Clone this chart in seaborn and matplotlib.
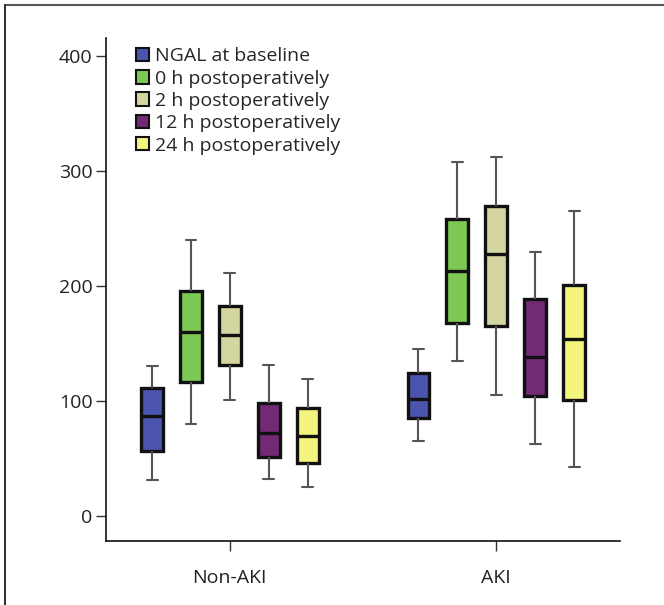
import numpy as np
import pandas as pd
import matplotlib
matplotlib.use("Agg")
import matplotlib.pyplot as plt
from matplotlib.lines import Line2D
from matplotlib.patches import Patch
import seaborn as sns

groups = ["Non-AKI", "AKI"]
timepoints = ["NGAL at baseline", "0 h postoperatively", "2 h postoperatively",
              "12 h postoperatively", "24 h postoperatively"]
colors = ["#4b55b0", "#7ec854", "#d4d6a2", "#732a74", "#f4f57c"]

# five-number summaries: min, q1, median, q3, max
non_aki = {
    "NGAL at baseline": [31, 56, 87, 111, 130],
    "0 h postoperatively": [80, 116, 160, 196, 240],
    "2 h postoperatively": [101, 131, 157, 183, 211],
    "12 h postoperatively": [32, 51, 72, 98, 131],
    "24 h postoperatively": [25, 46, 69, 94, 119],
}
aki = {
    "NGAL at baseline": [65, 85, 102, 124, 145],
    "0 h postoperatively": [135, 168, 213, 258, 308],
    "2 h postoperatively": [105, 165, 228, 270, 312],
    "12 h postoperatively": [62, 104, 138, 189, 230],
    "24 h postoperatively": [42, 101, 154, 201, 265],
}

rows = []
for grp, summ in zip(groups, [non_aki, aki]):
    for tp in timepoints:
        for v in summ[tp]:
            rows.append({"group": grp, "time": tp, "ngal": v})
df = pd.DataFrame(rows)

sns.set_style("white")
plt.rcParams["font.family"] = ["Open Sans", "DejaVu Sans"]

fig = plt.figure(figsize=(6.64, 6.05), dpi=100)
ax = fig.add_axes([0.160, 0.106, 0.774, 0.831])

sns.boxplot(
    data=df, x="group", y="ngal", hue="time", order=groups, hue_order=timepoints,
    palette=colors, whis=(0, 100), width=0.73, gap=0.44, ax=ax, legend=False,
    linewidth=2.4, linecolor="#111111", saturation=1,
    whiskerprops=dict(color="#555555", linewidth=1.5),
    capprops=dict(color="#555555", linewidth=1.5),
    medianprops=dict(color="#111111", linewidth=2.4),
)

ax.set_xlim(-0.464, 1.465)
ax.set_ylim(-22, 416)
ax.set_yticks([0, 100, 200, 300, 400])
ax.set_xlabel("")
ax.set_ylabel("")
for s in ["top", "right"]:
    ax.spines[s].set_visible(False)
for s in ["left", "bottom"]:
    ax.spines[s].set_color("#111111")
    ax.spines[s].set_linewidth(1.2)
ax.tick_params(axis="both", which="both", length=7, width=1, color="#333333",
               labelsize=14, labelcolor="#222222", direction="out",
               left=True, bottom=True)
ax.tick_params(axis="x", pad=13)
ax.tick_params(axis="y", pad=3)

handles = [Patch(facecolor=c, edgecolor="#111111", linewidth=1.5) for c in colors]
ax.legend(handles, timepoints, loc="upper left", bbox_to_anchor=(0.042, 0.997),
          frameon=False, fontsize=14, handlelength=0.68, handleheight=0.68,
          handletextpad=0.3, labelspacing=0.22, borderaxespad=0)

# outer frame: top and left edges
fig.add_artist(Line2D([0.008, 1.0], [0.992, 0.992], transform=fig.transFigure,
                      color="#555555", linewidth=1.5))
fig.add_artist(Line2D([0.008, 0.008], [0.0, 0.992], transform=fig.transFigure,
                      color="#333333", linewidth=1.5))

fig.savefig("out.png", dpi=100)
